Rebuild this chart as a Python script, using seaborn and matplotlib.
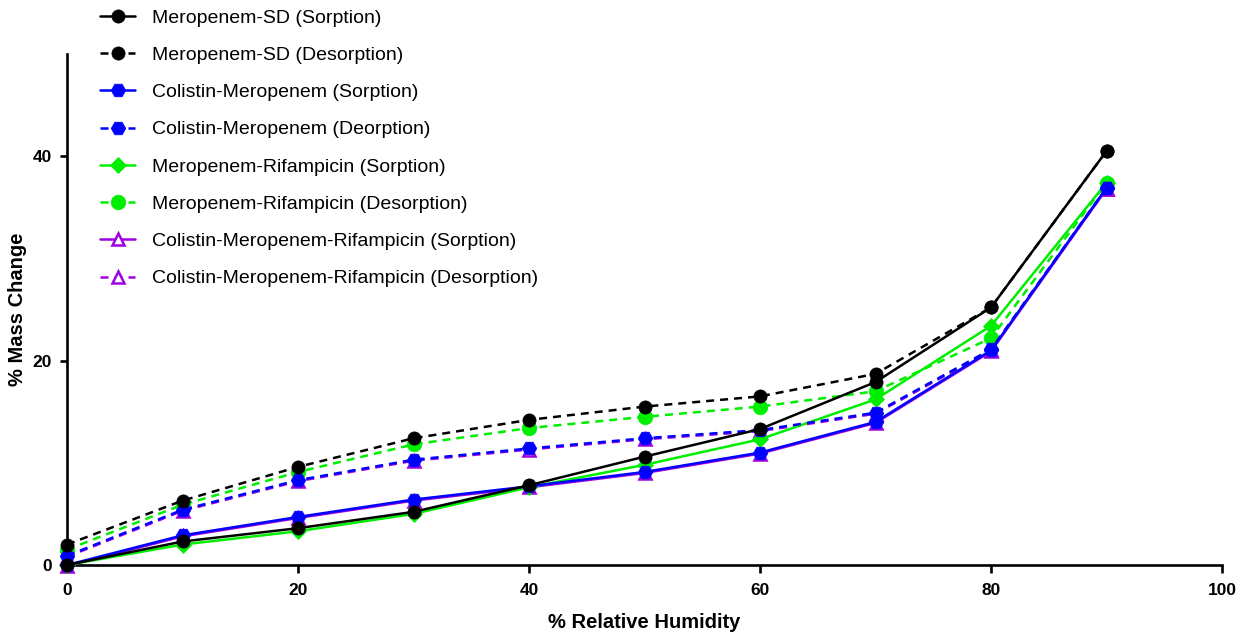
import numpy as np
import pandas as pd
import seaborn as sns
import matplotlib.pyplot as plt

# values
rh = [0, 10, 20, 30, 40, 50, 60, 70, 80, 90]

mero_sd_sorp = [0.0, 2.3, 3.6, 5.2, 7.8, 10.6, 13.3, 17.9, 25.2, 40.5]
mero_sd_desorp = [2.0, 6.3, 9.6, 12.4, 14.2, 15.5, 16.5, 18.7, 25.2, 40.5]
col_mero_sorp = [0.0, 2.9, 4.7, 6.4, 7.7, 9.1, 11.0, 14.0, 21.0, 36.9]
col_mero_desorp = [0.9, 5.4, 8.3, 10.3, 11.4, 12.4, 13.2, 14.9, 21.1, 36.9]
mero_rif_sorp = [0.0, 2.0, 3.3, 5.0, 7.6, 9.8, 12.3, 16.2, 23.4, 37.4]
mero_rif_desorp = [1.5, 5.9, 9.1, 11.8, 13.4, 14.5, 15.5, 17.0, 22.2, 37.4]
cmr_sorp = [-0.1, 2.8, 4.6, 6.3, 7.6, 9.0, 10.9, 13.9, 20.9, 36.8]
cmr_desorp = [0.8, 5.3, 8.2, 10.2, 11.3, 12.3, 13.1, 14.8, 21.0, 36.8]

labels = [
    'Meropenem-SD (Sorption)',
    'Meropenem-SD (Desorption)',
    'Colistin-Meropenem (Sorption)',
    'Colistin-Meropenem (Deorption)',
    'Meropenem-Rifampicin (Sorption)',
    'Meropenem-Rifampicin (Desorption)',
    'Colistin-Meropenem-Rifampicin (Sorption)',
    'Colistin-Meropenem-Rifampicin (Desorption)',
]
values = [mero_sd_sorp, mero_sd_desorp, col_mero_sorp, col_mero_desorp,
          mero_rif_sorp, mero_rif_desorp, cmr_sorp, cmr_desorp]

purple = '#A000E0'
colors = ['black', 'black', '#0000FF', '#0000FF', '#00EE00', '#00EE00', purple, purple]
markers = ['o', 'o', 'H', 'H', 'D', 'o', '^', '^']
sizes = [9.5, 9.5, 10.5, 10.5, 8.5, 10.5, 9, 9]
dash = (0, (3.2, 2.4))
styles = ['-', dash, '-', dash, '-', dash, '-', dash]

sns.set_style('ticks')
plt.rcParams['font.family'] = ['Liberation Sans', 'DejaVu Sans']
for k in ['text.color', 'axes.edgecolor', 'axes.labelcolor', 'xtick.color', 'ytick.color']:
    plt.rcParams[k] = 'black'

fig, ax = plt.subplots(figsize=(12.56, 6.39), dpi=100)
fig.subplots_adjust(left=67/1256, right=1222/1256, bottom=1-565/639, top=1-54/639)

# draw back to front so black ends up on top
for i in reversed(range(len(labels))):
    face = 'white' if markers[i] == '^' else colors[i]
    sns.lineplot(x=rh, y=values[i], ax=ax, color=colors[i], label=labels[i],
                 linestyle=styles[i], linewidth=1.8, marker=markers[i],
                 markersize=sizes[i], markerfacecolor=face,
                 markeredgecolor=colors[i], markeredgewidth=1.8 if face == 'white' else 0.5,
                 zorder=3 + (len(labels) - i) * 0.1, clip_on=False)

ax.set_xlim(0, 100)
ax.set_ylim(0, 50)
ax.set_xticks([0, 20, 40, 60, 80, 100])
ax.set_yticks([0, 20, 40])
sns.despine(ax=ax)
for s in ['left', 'bottom']:
    ax.spines[s].set_linewidth(1.9)
ax.tick_params(axis='x', length=6, width=1.9, pad=7, labelsize=12.5)
ax.tick_params(axis='y', length=5, width=1.9, pad=6, labelsize=12.5)
for t in ax.get_xticklabels() + ax.get_yticklabels():
    t.set_fontweight('bold')

ax.set_xlabel('% Relative Humidity', fontsize=14.5, fontweight='bold', labelpad=11)
ax.set_ylabel('% Mass Change', fontsize=14.5, fontweight='bold')
ax.yaxis.set_label_coords((27 - 67) / 1155, 0.5)

handles, labs = ax.get_legend_handles_labels()
order = [labs.index(l) for l in labels]
ax.legend_.remove()
fig.legend([handles[k] for k in order], labels, loc='upper left',
           bbox_to_anchor=(100/1256, 1 - 9/639), frameon=False, fontsize=14,
           handlelength=1.8, handletextpad=0.85, labelspacing=1.01,
           borderpad=0, borderaxespad=0)

fig.savefig('out.png', dpi=100)
